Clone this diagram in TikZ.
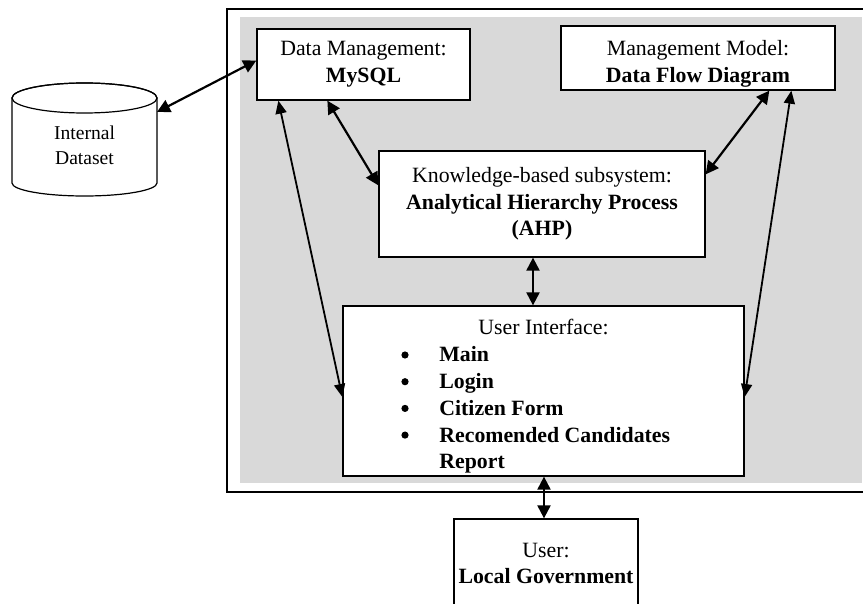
\documentclass[tikz,border=0pt]{standalone}
\usepackage{fontspec}
\setmainfont{Liberation Serif}
\usetikzlibrary{arrows.meta,calc}
\definecolor{bgGrey}{RGB}{217,217,217}
\begin{document}
\begin{tikzpicture}[x=0.5pt,y=-0.5pt,
  box/.style={draw,line width=0.65pt,fill=white,inner sep=0pt,rectangle},
  txt/.style={font=\fontsize{10.9}{13.35}\selectfont,align=center,inner sep=0pt},
  ltxt/.style={font=\fontsize{10.9}{13.35}\selectfont\bfseries,inner sep=0pt,anchor=base west},
  bul/.style={circle,fill=black,inner sep=0pt,minimum size=3.6pt},
  thickarr/.style={{Triangle[length=6.5pt,width=6.5pt]}-{Triangle[length=6.5pt,width=6.5pt]},line width=1.1pt},
  thinarr/.style={{Triangle[length=6.5pt,width=5.5pt]}-{Triangle[length=6.5pt,width=5.5pt]},line width=0.9pt}]
\useasboundingbox (0,0) rectangle (863,604);
\clip (0,0) rectangle (863,604);
% outer frame and grey panel
\draw[line width=0.6pt] (227,9) rectangle (880,492);
\fill[bgGrey] (240,17) rectangle (862,483);
% cylinder
\draw[line width=0.6pt,fill=white] (12,98) -- (12,183)
  arc[start angle=180,end angle=360,x radius=36.25pt,y radius=6.5pt]
  -- (157,98) arc[start angle=0,end angle=180,x radius=36.25pt,y radius=7.5pt] -- cycle;
\draw[line width=0.6pt] (84.5,98) ellipse[x radius=36.25pt,y radius=7.5pt];
\node[inner sep=0pt,align=center,font=\fontsize{9.8}{12.5}\selectfont] (ds) at (84.5,145.5) {Internal\\Dataset};
% boxes
\node[box,minimum width=106.5pt,minimum height=35.5pt,txt] (dm) at (363.5,64.5)
  {Data Management:\\\textbf{MySQL}};
\node[box,minimum width=137pt,minimum height=32pt] (mm) at (698,58) {};
\node[txt] (mmt) at (698,64) {Management Model:\\\textbf{Data Flow Diagram}};
\node[box,minimum width=163pt,minimum height=53pt,txt] (kb) at (542,204)
  {Knowledge-based subsystem:\\\textbf{Analytical Hierarchy Process}\\\textbf{(AHP)}};
\node[box,minimum width=200.5pt,minimum height=85pt] (ui) at (543.5,391) {};
\node[txt,anchor=base] (uit) at (543.5,335) {User Interface:};
\node[bul] (b1) at (405,355) {};
\node[bul] (b2) at (405,381.7) {};
\node[bul] (b3) at (405,408.4) {};
\node[bul] (b4) at (405,435.1) {};
\node[ltxt] (i1) at (439,362) {Main};
\node[ltxt] (i2) at (439,388.7) {Login};
\node[ltxt] (i3) at (439,415.4) {Citizen Form};
\node[ltxt] (i4) at (439,442.1) {Recomended Candidates};
\node[ltxt] (i5) at (439,468.8) {Report};
\node[box,minimum width=92pt,minimum height=50.5pt] (user) at (546,569.5) {};
\node[txt] (usert) at (546,563.5) {User:\\\textbf{Local Government}};
% anchor points
\coordinate (dsR) at ($(ds.center)+(72.5,-33.5)$);
\coordinate (dmL) at ($(dm.west)+(0,-4)$);
\coordinate (dmB1) at ($(dm.south west)+(22,0)$);
\coordinate (dmB2) at ($(dm.south west)+(71,0)$);
\coordinate (kbL) at ($(kb.north west)+(0,35)$);
\coordinate (kbR) at ($(kb.north east)+(0,24)$);
\coordinate (kbB) at ($(kb.south)+(-9,0)$);
\coordinate (mmB1) at ($(mm.south west)+(209,0)$);
\coordinate (mmB2) at ($(mm.south west)+(231,0)$);
\coordinate (uiL) at ($(ui.west)+(0,6)$);
\coordinate (uiR) at ($(ui.east)+(0,6)$);
\coordinate (uiT) at (kbB |- ui.north);
\coordinate (uiB) at ($(ui.south)+(0.5,0)$);
\coordinate (usT) at (uiB |- user.north);
% connectors
\draw[thickarr] (dsR) -- (dmL);
\draw[thickarr] (dmB2) -- (kbL);
\draw[thickarr] (mmB1) -- (kbR);
\draw[thickarr] (kbB) -- (uiT);
\draw[thickarr] (uiB) -- (usT);
\draw[thinarr] (dmB1) -- (uiL);
\draw[thinarr] (mmB2) -- (uiR);
\end{tikzpicture}
\end{document}
